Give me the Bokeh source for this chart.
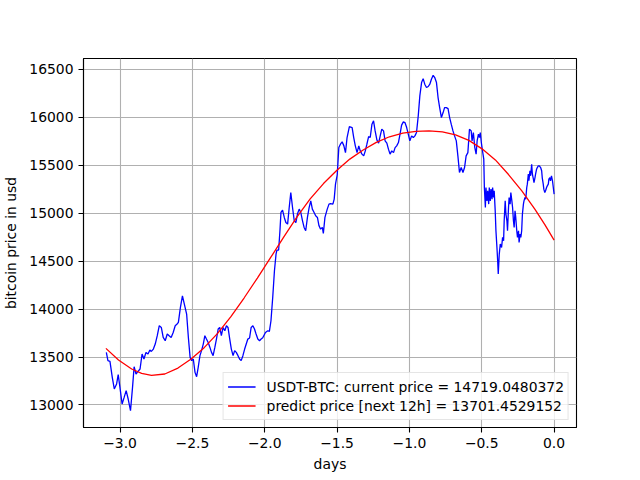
from bokeh.plotting import figure
from bokeh.models import Range1d, SingleIntervalTicker, CustomJSTickFormatter, Legend, LegendItem
from bokeh.embed import file_html
from bokeh.resources import INLINE

# observed price (days relative to now, USD)
days = [
    -3.095, -3.084, -3.070, -3.054, -3.040, -3.024, -3.013, -3.001, -2.986, -2.972,
    -2.958, -2.944, -2.928, -2.914, -2.903, -2.890, -2.876, -2.862, -2.848, -2.835,
    -2.821, -2.807, -2.794, -2.784, -2.770, -2.757, -2.743, -2.729, -2.715, -2.702,
    -2.688, -2.674, -2.661, -2.647, -2.633, -2.619, -2.606, -2.597, -2.583, -2.569,
    -2.540, -2.528, -2.516, -2.505, -2.494, -2.482, -2.471, -2.460, -2.448, -2.437,
    -2.425, -2.414, -2.403, -2.391, -2.379, -2.368, -2.357, -2.345, -2.334, -2.322,
    -2.311, -2.300, -2.288, -2.276, -2.265, -2.254, -2.242, -2.231, -2.219, -2.208,
    -2.197, -2.185, -2.174, -2.163, -2.151, -2.139, -2.128, -2.117, -2.105, -2.094,
    -2.082, -2.071, -2.060, -2.048, -2.036, -2.025,
    -2.014, -1.995, -1.979, -1.968, -1.957, -1.945, -1.933, -1.922, -1.916, -1.904,
    -1.895, -1.888, -1.877, -1.865, -1.854, -1.842, -1.831, -1.820, -1.808, -1.796,
    -1.785, -1.774, -1.762, -1.751, -1.739, -1.728, -1.717, -1.705, -1.693, -1.682,
    -1.671, -1.659, -1.648, -1.636, -1.625, -1.614, -1.602, -1.595, -1.584, -1.568,
    -1.556, -1.545, -1.529, -1.520, -1.511, -1.499,
    -1.488, -1.477, -1.465, -1.453, -1.442, -1.431, -1.415, -1.396, -1.385, -1.374,
    -1.362, -1.350, -1.340, -1.328, -1.316, -1.305, -1.294, -1.282, -1.271, -1.259,
    -1.248, -1.237, -1.225, -1.213, -1.202, -1.191, -1.179, -1.168, -1.156, -1.145,
    -1.134, -1.122, -1.110, -1.099, -1.088, -1.076, -1.065, -1.054, -1.042, -1.031,
    -1.019, -1.008, -0.997, -0.985, -0.973, -0.962,
    -0.951, -0.939, -0.928, -0.916, -0.905, -0.894, -0.882, -0.870, -0.859, -0.848,
    -0.836, -0.825, -0.813, -0.802, -0.791, -0.779, -0.767, -0.757, -0.745, -0.733,
    -0.722, -0.711, -0.699, -0.688, -0.676, -0.665, -0.654, -0.642, -0.630, -0.619,
    -0.608, -0.596, -0.585, -0.573, -0.567, -0.558, -0.548, -0.539, -0.532, -0.523,
    -0.516, -0.510, -0.503, -0.493, -0.486,
    -0.482, -0.475, -0.471, -0.464, -0.459, -0.452, -0.448, -0.441, -0.436, -0.429,
    -0.425, -0.418, -0.414, -0.407, -0.402, -0.395, -0.390, -0.386, -0.379, -0.372,
    -0.363, -0.356, -0.349, -0.345, -0.338, -0.333, -0.326, -0.322, -0.315, -0.311,
    -0.304, -0.299, -0.292, -0.287, -0.281, -0.276, -0.270, -0.265, -0.258, -0.253,
    -0.246, -0.242, -0.235, -0.230, -0.224, -0.219, -0.212, -0.208, -0.201, -0.196,
    -0.189, -0.185, -0.178, -0.174, -0.167, -0.162, -0.155, -0.150, -0.143, -0.139,
    -0.132, -0.128, -0.121, -0.116, -0.109, -0.102, -0.093, -0.086, -0.082, -0.075,
    -0.071, -0.064, -0.059, -0.052, -0.047, -0.040, -0.036, -0.029, -0.025, -0.018,
    -0.011, 0.0,
]
price = [
    13548, 13462, 13454, 13287, 13167, 13219, 13316, 13183, 13010, 13079,
    13149, 13062, 12940, 13183, 13399, 13323, 13350, 13375, 13531, 13479,
    13548, 13531, 13573, 13558, 13583, 13635, 13722, 13826, 13808, 13704,
    13670, 13740, 13722, 13704, 13756, 13826, 13844, 13861, 14017, 14138,
    13948, 13704, 13496, 13462, 13479, 13340, 13295, 13392, 13514, 13566,
    13635, 13722, 13687, 13652, 13600, 13548, 13514, 13600, 13687, 13792,
    13808, 13722, 13808, 13774, 13826, 13808, 13687, 13583, 13514, 13566,
    13548, 13514, 13479, 13462, 13514, 13583, 13635, 13687, 13698, 13808,
    13826, 13792, 13740, 13687, 13670, 13687,
    13700, 13756, 13774, 13767, 13878, 14121, 14399, 14573, 14615, 14615,
    14816, 15007, 15031, 14955, 14902, 14885, 15059, 15215, 15059, 14920,
    14902, 14990, 15042, 15007, 14920, 14851, 14816, 14955, 15059, 15128,
    15042, 15007, 14972, 14955, 14868, 14833, 14851, 14788, 14955, 15042,
    15094, 15100, 15094, 15146, 15302, 15400,
    15683, 15719, 15743, 15701, 15631, 15788, 15902, 15892, 15788, 15701,
    15631, 15701, 15649, 15615, 15597, 15649, 15719, 15798, 15788, 15927,
    15962, 15857, 15764, 15729, 15805, 15875, 15857, 15753, 15729, 15667,
    15615, 15649, 15631, 15683, 15701, 15736, 15823, 15917, 15951, 15944,
    15892, 15823, 15753, 15805, 15788, 15805,
    15840, 16014, 16222, 16361, 16402, 16344, 16309, 16320, 16344, 16396,
    16437, 16413, 16361, 16205, 16100, 15996, 16048, 16100, 16100, 16090,
    15996, 15927, 15857, 15805, 15753, 15597, 15423, 15475, 15423, 15475,
    15597, 15631, 15875, 15857, 15753, 15840, 15683, 15614, 15753, 15823,
    15788, 15840, 15736, 15631, 15562,
    15267, 15059, 15267, 15128, 15233, 15094, 15267, 15128, 15250, 15146,
    15267, 15163, 15233, 15024, 14816, 14642, 14503, 14365, 14573, 14677,
    14642, 14747, 14712, 14920, 15128, 14990, 14920, 14816, 15059, 15163,
    15094, 15215, 15128, 15059, 14920, 14851, 15024, 14955, 14816, 14747,
    14816, 14694, 14781, 14747, 14816, 14990, 15094, 15128, 15163, 15146,
    15267, 15302, 15406, 15337, 15441, 15389, 15510, 15406, 15354, 15319,
    15371, 15406, 15458, 15475, 15493, 15493, 15475, 15441, 15371, 15302,
    15250, 15215, 15233, 15267, 15284, 15302, 15354, 15371, 15337, 15389,
    15337, 15198,
]

# fitted trend
fit_days = [
    -3.098, -3.011, -2.920, -2.851, -2.783, -2.691, -2.600, -2.509, -2.417, -2.326,
    -2.234, -2.143, -2.051, -1.960, -1.868, -1.777, -1.686, -1.594, -1.503, -1.412,
    -1.320, -1.229, -1.138, -1.046, -0.955, -0.864, -0.772, -0.681, -0.589, -0.498,
    -0.406, -0.315, -0.223, -0.132, -0.064, 0.0,
]
fit_price = [
    13590, 13469, 13375, 13329, 13308, 13323, 13385, 13479, 13600, 13746,
    13920, 14115, 14323, 14535, 14752, 14960, 15148, 15308, 15445, 15563,
    15658, 15737, 15796, 15834, 15852, 15857, 15847, 15816, 15758, 15670,
    15555, 15402, 15232, 15040, 14880, 14719,
]

current_price = 14719.0480372
predicted_price = 13701.4529152

x_ticks_interval = 0.5
y_ticks_interval = 500

FONT = "DejaVu Sans"
FS = "13.9px"

all_x = days + fit_days
all_y = price + fit_price
xmin, xmax = min(all_x), max(all_x)
ymin, ymax = min(all_y), max(all_y)
xpad = 0.05 * (xmax - xmin)
ypad = 0.05 * (ymax - ymin)

p = figure(
    width=640, height=480,
    output_backend="svg", toolbar_location=None,
    x_range=Range1d(xmin - xpad, xmax + xpad),
    y_range=Range1d(ymin - ypad, ymax + ypad),
    min_border_left=80, min_border_right=64,
    min_border_top=58, min_border_bottom=53,
    background_fill_color="white", border_fill_color="white",
)

p.outline_line_color = "black"
p.outline_line_width = 1.1
p.outline_line_alpha = 1.0

p.xaxis.ticker = SingleIntervalTicker(interval=x_ticks_interval, num_minor_ticks=0)
p.yaxis.ticker = SingleIntervalTicker(interval=y_ticks_interval, num_minor_ticks=0)
p.xaxis.formatter = CustomJSTickFormatter(code="return tick.toFixed(1).replace('-', '\u2212');")

for ax in (p.xaxis[0], p.yaxis[0]):
    ax.axis_line_color = "black"
    ax.axis_line_width = 1.1
    ax.major_tick_line_color = "black"
    ax.major_tick_line_width = 1.1
    ax.major_tick_out = 5
    ax.major_tick_in = 0
    ax.minor_tick_out = 0
    ax.minor_tick_in = 0
    ax.major_label_text_font = FONT
    ax.major_label_text_font_size = FS
    ax.major_label_text_color = "black"
    ax.major_label_standoff = 5
    ax.axis_label_text_font = FONT
    ax.axis_label_text_font_size = FS
    ax.axis_label_text_font_style = "normal"
    ax.axis_label_text_color = "black"

p.xaxis.axis_label = "days"
p.yaxis.axis_label = "bitcoin price in usd"
p.xaxis.axis_label_standoff = 5
p.yaxis.axis_label_standoff = 7

p.xgrid.grid_line_color = "#b0b0b0"
p.ygrid.grid_line_color = "#b0b0b0"
p.xgrid.grid_line_width = 1.1
p.ygrid.grid_line_width = 1.1

r_obs = p.line(days, price, line_color="#0000ff", line_width=1.3)
r_fit = p.line(fit_days, fit_price, line_color="#ff0000", line_width=1.3)

legend = Legend(
    items=[
        LegendItem(label=f"USDT-BTC: current price = {current_price}", renderers=[r_obs]),
        LegendItem(label=f"predict price [next 12h] = {predicted_price}", renderers=[r_fit]),
    ],
    location="bottom_right",
)
legend.label_text_font = FONT
legend.label_text_font_size = FS
legend.label_text_color = "black"
legend.glyph_width = 28
legend.glyph_height = 19
legend.label_height = 19
legend.label_standoff = 11
legend.spacing = 0
legend.padding = 4
legend.margin = 7
legend.border_line_color = "#cccccc"
legend.border_line_width = 1
legend.background_fill_color = "white"
legend.background_fill_alpha = 0.8
p.add_layout(legend)

open("out.html", "w").write(file_html(p, INLINE))
